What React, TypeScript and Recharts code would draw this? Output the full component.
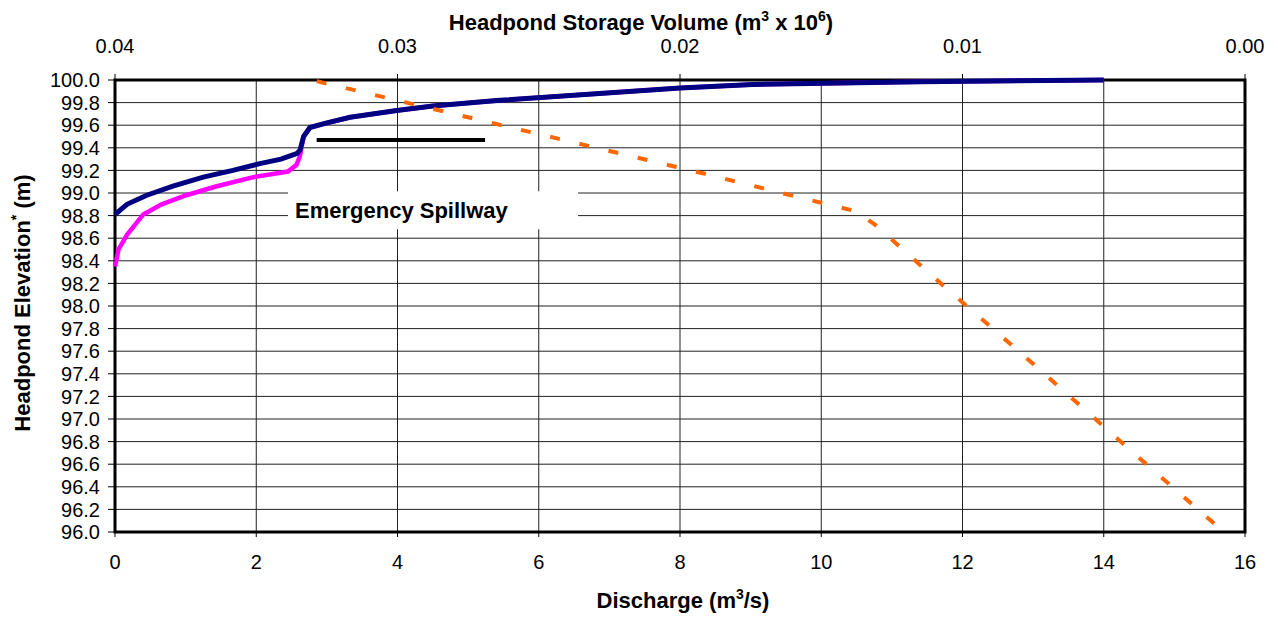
import React from 'react';
import { LineChart, Line, XAxis, YAxis, CartesianGrid, ReferenceArea, Label } from 'recharts';

const dischargeTicks = [0, 2, 4, 6, 8, 10, 12, 14, 16];
const volumeTicks = [0, 0.01, 0.02, 0.03, 0.04];
const elevationTicks = [
  96.0, 96.2, 96.4, 96.6, 96.8, 97.0, 97.2, 97.4, 97.6, 97.8, 98.0,
  98.2, 98.4, 98.6, 98.8, 99.0, 99.2, 99.4, 99.6, 99.8, 100.0,
];

// upper discharge curve (navy)
const upperQ = [0, 0.17, 0.45, 0.82, 1.25, 1.67, 2.05, 2.35, 2.58, 2.62, 2.67, 2.76, 3.0, 3.33, 3.99, 4.5, 5.45, 8.0, 9.03, 11.4, 14.0];
const upperElev = [98.81, 98.9, 98.98, 99.06, 99.14, 99.2, 99.26, 99.3, 99.35, 99.38, 99.5, 99.58, 99.62, 99.67, 99.73, 99.77, 99.82, 99.93, 99.96, 99.985, 100.0];

// lower discharge curve (magenta), joins the upper one above the step
const lowerQ = [0, 0.05, 0.17, 0.4, 0.66, 1.01, 1.44, 1.96, 2.45, 2.57, 2.62];
const lowerElev = [98.35, 98.5, 98.63, 98.81, 98.9, 98.98, 99.06, 99.14, 99.19, 99.25, 99.33];

// storage volume (orange dashed, top axis)
const storageVol = [0.03286, 0.02968, 0.02548, 0.0223, 0.01912, 0.01593, 0.0138, 0.0131, 0.01068, 0.00737, 0.00413, 0.00075];
const storageElev = [99.99, 99.8, 99.55, 99.36, 99.17, 98.97, 98.84, 98.72, 98.18, 97.46, 96.74, 96.0];

const spillwayQ = [2.855, 5.24];
const spillwayElev = [99.47, 99.47];

const FONT = '"Liberation Sans", Arial, sans-serif';

const upperData = upperQ.map((q, i) => ({ q, elev: upperElev[i] }));
const lowerData = [
  ...lowerQ.map((q, i) => ({ q, elev: lowerElev[i] })),
  ...upperData.filter((d) => d.q > 2.62),
];
const storageData = storageVol.map((v, i) => ({ v, elev: storageElev[i] }));
const spillwayData = spillwayQ.map((q, i) => ({ q, elev: spillwayElev[i] }));

const tickStyle = { fill: '#000', fontSize: 20, fontFamily: FONT };

const App: React.FC = () => {
  return (
    <div style={{ position: 'absolute', left: 0, top: 0, width: 1278, height: 617, background: '#fff' }}>
      <LineChart width={1278} height={617} margin={{ top: 40, right: 33, bottom: 45, left: 35 }}>
        <CartesianGrid stroke="#222" strokeWidth={1} />
        <XAxis
          dataKey="q"
          type="number"
          domain={[0, 16]}
          ticks={dischargeTicks}
          interval={0}
          height={40}
          axisLine={false}
          tickLine={{ stroke: '#000' }}
          tickSize={5}
          tickMargin={18}
          tick={tickStyle}
        />
        <XAxis
          xAxisId="vol"
          dataKey="v"
          type="number"
          orientation="top"
          domain={[0, 0.04]}
          reversed
          ticks={volumeTicks}
          interval={0}
          height={40}
          axisLine={false}
          tickLine={{ stroke: '#000' }}
          tickSize={6}
          tickMargin={21}
          tick={tickStyle}
          tickFormatter={(v: number) => v.toFixed(2)}
        />
        <YAxis
          type="number"
          domain={[96, 100]}
          ticks={elevationTicks}
          interval={0}
          width={80}
          axisLine={false}
          tickLine={{ stroke: '#000' }}
          tickSize={7}
          tickMargin={8}
          tick={tickStyle}
          tickFormatter={(v: number) => v.toFixed(1)}
        />
        <ReferenceArea x1={2.45} x2={6.556} y1={98.68} y2={99.015} fill="#fff" fillOpacity={1} stroke="none">
          <Label
            value="Emergency Spillway"
            position="insideLeft"
            offset={7}
            fill="#000"
            fontSize={22}
            fontWeight="bold"
            fontFamily={FONT}
          />
        </ReferenceArea>
        <Line data={lowerData} dataKey="elev" stroke="#ff00ff" strokeWidth={4.5} dot={false} isAnimationActive={false} />
        <Line data={upperData} dataKey="elev" stroke="#000080" strokeWidth={5} dot={false} isAnimationActive={false} />
        <Line
          data={storageData}
          xAxisId="vol"
          dataKey="elev"
          stroke="#ff6600"
          strokeWidth={4}
          strokeDasharray="10 20"
          dot={false}
          isAnimationActive={false}
        />
        <Line data={spillwayData} dataKey="elev" stroke="#000" strokeWidth={4} dot={false} isAnimationActive={false} />
        <ReferenceArea x1={0} x2={16} y1={96} y2={100} fill="none" stroke="#000" strokeWidth={3} />
      </LineChart>
      <svg
        width={1278}
        height={617}
        style={{ position: 'absolute', left: 0, top: 0, pointerEvents: 'none' }}
        fontFamily={FONT}
        fontWeight="bold"
        fontSize={22}
      >
        <text x={641} y={30} textAnchor="middle">
          Headpond Storage Volume (m<tspan dy={-9} fontSize={14}>3</tspan>
          <tspan dy={9}> x 10</tspan>
          <tspan dy={-9} fontSize={14}>6</tspan>
          <tspan dy={9}>)</tspan>
        </text>
        <text x={683} y={608} textAnchor="middle">
          Discharge (m<tspan dy={-9} fontSize={14}>3</tspan>
          <tspan dy={9}>/s)</tspan>
        </text>
        <text transform="translate(30,303) rotate(-90)" textAnchor="middle">
          Headpond Elevation<tspan dy={-9} fontSize={14}>*</tspan>
          <tspan dy={9}> (m)</tspan>
        </text>
      </svg>
    </div>
  );
};

export default App;
